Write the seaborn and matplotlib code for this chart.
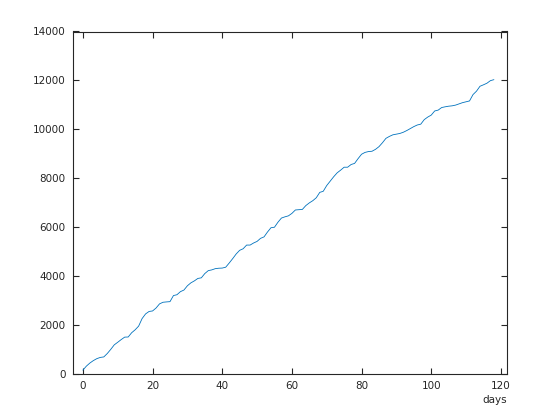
import numpy as np
import pandas as pd
import matplotlib
matplotlib.use("Agg")
import matplotlib.pyplot as plt
import seaborn as sns

# ==============================
# Data
# ==============================
days = list(range(0, 119))

total = [
    150, 314, 440, 540, 620, 670, 690, 830, 1000, 1184,
    1290, 1400, 1500, 1505, 1680, 1800, 1950, 2260, 2450, 2550,
    2570, 2690, 2860, 2926, 2940, 2951, 3200, 3234, 3360, 3425,
    3600, 3720, 3800, 3900, 3925, 4100, 4220, 4250, 4300, 4318,
    4324, 4360, 4530, 4710, 4900, 5050, 5114, 5265, 5265, 5350,
    5415, 5540, 5600, 5800, 5975, 5995, 6200, 6370, 6420, 6460,
    6560, 6700, 6712, 6722, 6880, 6990, 7080, 7200, 7420, 7465,
    7700, 7880, 8060, 8220, 8330, 8449, 8449, 8560, 8605, 8800,
    8980, 9055, 9090, 9102, 9180, 9290, 9450, 9630, 9710, 9775,
    9802, 9830, 9880, 9950, 10030, 10110, 10176, 10210, 10396, 10500,
    10580, 10750, 10785, 10890, 10920, 10945, 10960, 10990, 11040, 11090,
    11125, 11160, 11420, 11560, 11760, 11820, 11885, 11990, 12030,
]

x_ticks = [0, 20, 40, 60, 80, 100, 120]
y_ticks = [0, 2000, 4000, 6000, 8000, 10000, 12000, 14000]

df = pd.DataFrame({"days": days, "total": total})

# ==============================
# Style
# ==============================
sns.set_theme(style="ticks")
plt.rcParams["font.family"] = ["DejaVu Sans"]

axis_color = "#262626"

fig = plt.figure(figsize=(5.6, 4.2), dpi=100)
ax = fig.add_axes([0.13, 0.11, 0.775, 0.815])

sns.lineplot(
    data=df,
    x="days",
    y="total",
    color="#0072BD",
    linewidth=0.6,
    ax=ax
)

ax.set_xlim(-2.9, 121.7)
ax.set_ylim(0, 14000)
ax.set_xticks(x_ticks)
ax.set_yticks(y_ticks)

ax.tick_params(
    direction="in",
    length=4,
    width=0.8,
    top=True,
    right=True,
    labelsize=7.5,
    colors=axis_color,
    pad=5
)

for spine in ax.spines.values():
    spine.set_visible(True)
    spine.set_color(axis_color)
    spine.set_linewidth(0.8)

ax.set_ylabel("")
ax.set_xlabel("days", loc="right", fontsize=7.5, color=axis_color, labelpad=3)

fig.savefig("out.png", dpi=100)
plt.close(fig)
